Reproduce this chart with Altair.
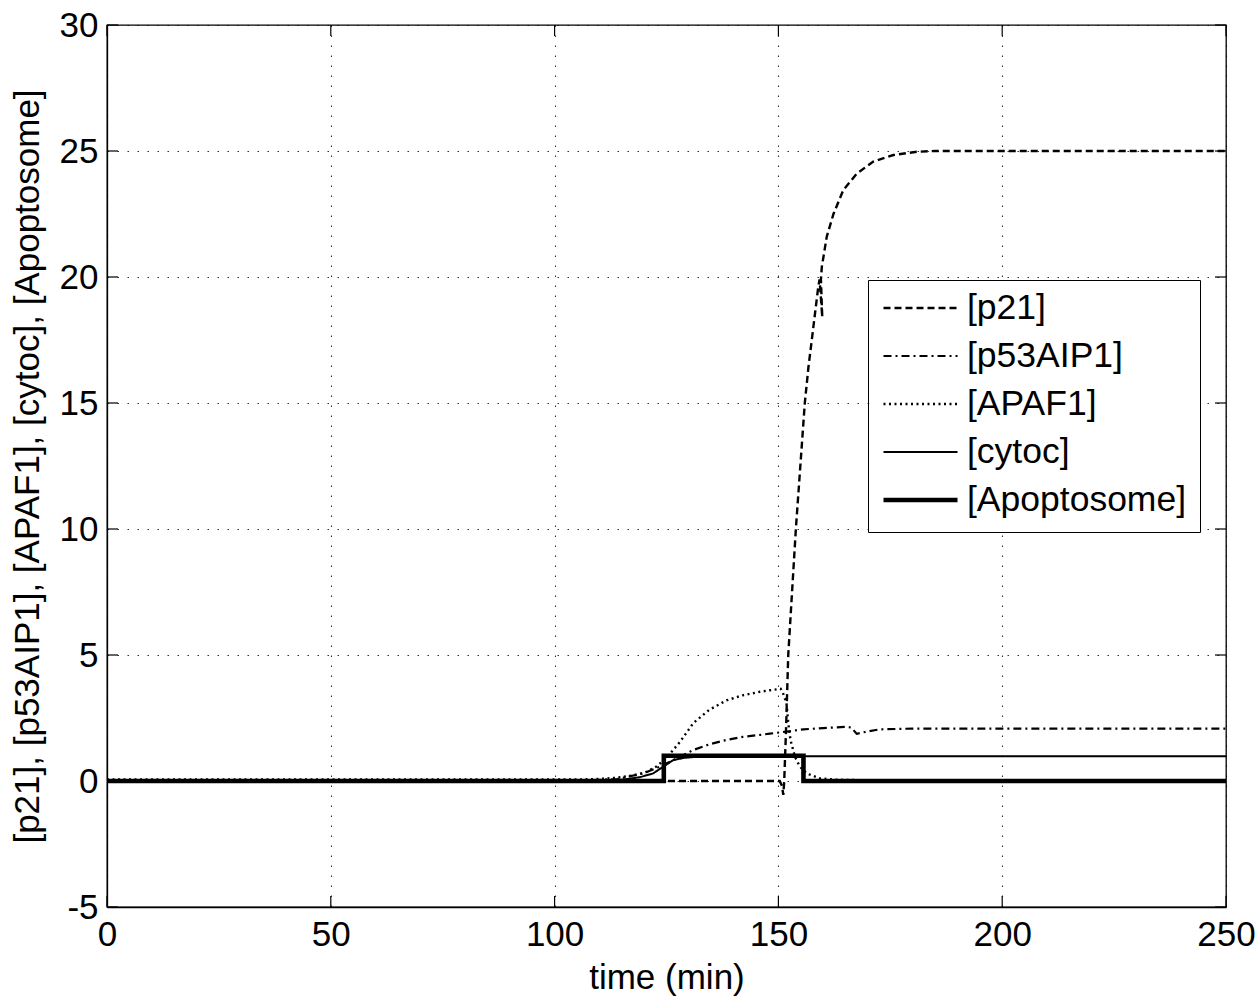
import altair as alt
import pandas as pd

# ---------------- data ----------------
SERIES = ["[p21]", "[p53AIP1]", "[APAF1]", "[cytoc]", "[Apoptosome]"]

P21_T = [0, 148, 150.3, 150.8, 151.1, 151.3, 151.7, 152.2, 153.9, 155.9, 156.7, 157.8,
         158.9, 159.2, 159.8, 159.5, 159.7, 160.8, 162.3, 164.5, 167.5, 171.2, 175.7,
         180.9, 185, 195, 250]
P21_V = [0, 0, 0, -0.2, -0.55, 0, 2.0, 5.0, 10.0, 15.0, 16.4, 18.0,
         19.6, 19.9, 18.4, 19.9, 20.4, 21.6, 22.5, 23.45, 24.1, 24.58, 24.84,
         24.97, 25.0, 25.0, 25.0]

P53_T = [0, 108, 114, 119.8, 123.5, 126.5, 131, 134.5, 138.4, 142, 145.9, 148.1,
         151.8, 155.6, 160, 165.3, 166.3, 167.5, 169.7, 172.7, 180, 250]
P53_V = [0.03, 0.03, 0.08, 0.3, 0.57, 0.83, 1.23, 1.45, 1.63, 1.75, 1.83, 1.88,
         1.96, 2.05, 2.1, 2.15, 2.12, 1.87, 1.96, 2.05, 2.08, 2.08]

APAF_T = [0, 105, 110, 114, 117.5, 120.5, 123, 125.5, 128, 131, 134.5, 138.4, 142, 145.9,
          148.1, 150.5, 151.0, 151.8, 152.2, 152.7, 153.7, 154.8, 156.3, 159.3, 163,
          170, 250]
APAF_V = [0.06, 0.06, 0.08, 0.13, 0.22, 0.36, 0.6, 1.02, 1.55, 2.3, 2.82, 3.2, 3.4, 3.54,
          3.6, 3.66, 3.5, 3.1, 2.3, 1.63, 0.96, 0.57, 0.3, 0.1, 0.05,
          0.03, 0.02]

CYTOC_T = [0, 110, 115, 119, 122, 124.3, 126.5, 129, 131, 135, 140, 250]
CYTOC_V = [0.01, 0.01, 0.05, 0.15, 0.3, 0.57, 0.83, 0.92, 0.95, 0.97, 0.98, 0.98]

APOP_T = [0, 124.4, 124.4, 155.6, 155.6, 250]
APOP_V = [0, 0, 1.0, 1.0, 0, 0]

X_TICKS = [0, 50, 100, 150, 200, 250]
Y_TICKS = [-5, 0, 5, 10, 15, 20, 25, 30]

# styles
DASHES = [[7, 4], [8, 4, 2, 4], [2, 3.5], [1, 0], [1, 0]]
WIDTHS = [2.4, 2.2, 2.4, 2.0, 4.6]

rows = []
for name, ts, vs in [(SERIES[0], P21_T, P21_V), (SERIES[1], P53_T, P53_V),
                     (SERIES[2], APAF_T, APAF_V), (SERIES[3], CYTOC_T, CYTOC_V),
                     (SERIES[4], APOP_T, APOP_V)]:
    for i, (t, v) in enumerate(zip(ts, vs)):
        rows.append({"series": name, "t": t, "v": v, "idx": i})
df = pd.DataFrame(rows)

FONT = "Liberation Sans"
W, H = 1119, 882

X_ENC = alt.X("t:Q", scale=alt.Scale(domain=[0, 250], nice=False, zero=False),
              axis=alt.Axis(values=X_TICKS, title="time (min)", grid=True, ticks=False,
                            labelPadding=10, titlePadding=8, labelFlush=False,
                            labelExpr="'' + datum.value", titleFontSize=35))
Y_ENC = alt.Y("v:Q", scale=alt.Scale(domain=[-5, 30], nice=False, zero=False),
              axis=alt.Axis(values=Y_TICKS, title="[p21], [p53AIP1], [APAF1], [cytoc], [Apoptosome]",
                            grid=True, ticks=False, labelPadding=9, titlePadding=14,
                            labelFlush=False, labelOverlap=False,
                            labelExpr="'' + datum.value", titleFontSize=35))

lines = alt.Chart(df).mark_line(color="black", strokeCap="butt").encode(
    x=X_ENC,
    y=Y_ENC,
    strokeDash=alt.StrokeDash("series:N", scale=alt.Scale(domain=SERIES, range=DASHES),
                              legend=alt.Legend(title=None, orient="none", legendX=761, legendY=255,
                                                symbolType="stroke", symbolSize=5476,
                                                symbolStrokeColor="black", symbolOpacity=1,
                                                clipHeight=30, rowPadding=12, labelOffset=7,
                                                labelFontSize=35.5, labelFont=FONT, labelColor="black",
                                                labelLimit=400, padding=13, fillColor="white",
                                                strokeColor="black")),
    strokeWidth=alt.StrokeWidth("series:N", scale=alt.Scale(type="ordinal", domain=SERIES, range=WIDTHS),
                                legend=alt.Legend(title=None, orient="none", legendX=761, legendY=255)),
    order=alt.Order("idx:Q"),
)

xt = pd.DataFrame({"t": X_TICKS})
yt = pd.DataFrame({"v": Y_TICKS})
TL = 11
tick_b = alt.Chart(xt).mark_rule(color="black", strokeWidth=1.2).encode(
    x=X_ENC, y=alt.value(H), y2=alt.value(H - TL))
tick_t = alt.Chart(xt).mark_rule(color="black", strokeWidth=1.2).encode(
    x=X_ENC, y=alt.value(0), y2=alt.value(TL))
tick_l = alt.Chart(yt).mark_rule(color="black", strokeWidth=1.2).encode(
    y=Y_ENC, x=alt.value(0), x2=alt.value(TL))
tick_r = alt.Chart(yt).mark_rule(color="black", strokeWidth=1.2).encode(
    y=Y_ENC, x=alt.value(W), x2=alt.value(W - TL))

chart = alt.layer(lines, tick_b, tick_t, tick_l, tick_r).properties(
    width=W, height=H,
    autosize=alt.AutoSizeParams(type="none"),
    padding={"left": 107, "top": 25, "right": 34, "bottom": 91},
    background="white",
).configure_view(stroke="black", strokeWidth=1.3).configure_axis(
    labelFont=FONT, labelFontSize=35, labelColor="black",
    titleFont=FONT, titleColor="black", titleFontWeight="normal",
    domainColor="black", domainWidth=1.3,
    gridColor="black", gridDash=[1.5, 8.5], gridOpacity=0.8, gridWidth=1.1,
)

chart.save("out.html", embed_options={"renderer": "svg", "actions": False})
